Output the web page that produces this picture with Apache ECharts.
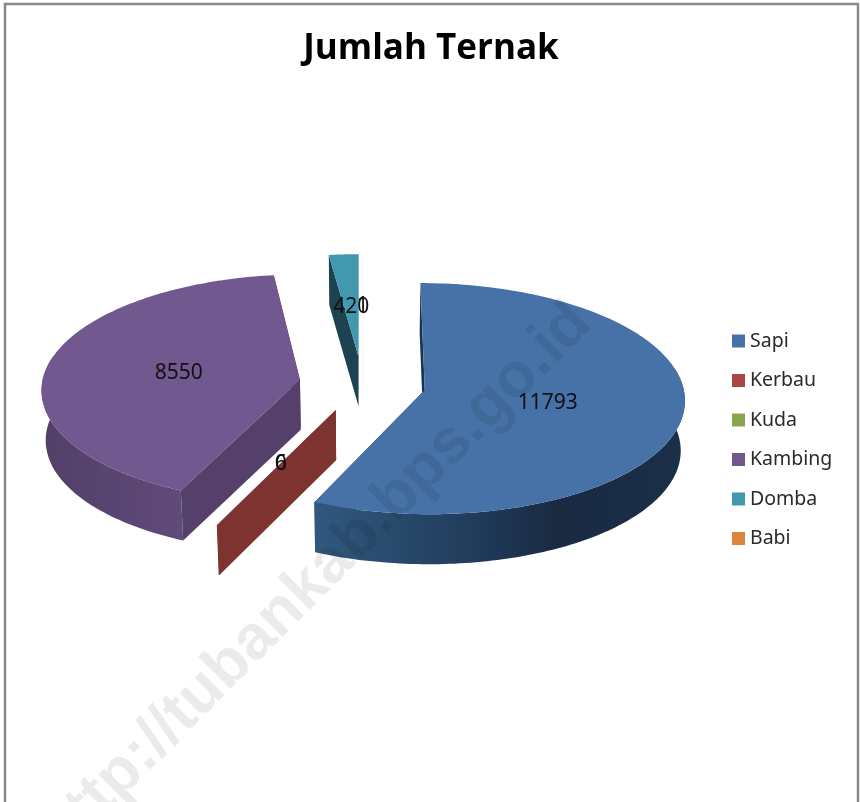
<!DOCTYPE html>
<html><head><meta charset="utf-8">
<style>html,body{margin:0;padding:0;background:#fff}#c{width:860px;height:802px}</style>
<script src="https://cdn.jsdelivr.net/npm/echarts@6/dist/echarts.min.js"></script>
</head><body><div id="c"></div>
<script>
const categories = ['Sapi','Kerbau','Kuda','Kambing','Domba','Babi'];
const values = [11793,6,0,8550,420,1];
const topColors = ['#4672a8','#aa4643','#89a54e','#71588f','#4198af','#db843d'];
const wallColors = ['#1c3350','#7d3330','#5f7a38','#553f6b','#1d4350','#a0602c'];
const rimStops = [
  [[0,'#30597f'],[0.45,'#203a59'],[0.66,'#192a41'],[1,'#1b2f49']],
  [[0,'#7d3330'],[1,'#7d3330']],
  [[0,'#5f7a38'],[1,'#5f7a38']],
  [[0,'#6a5286'],[1,'#523f68']],
  [[0,'#2f7488'],[1,'#1d4350']],
  [[0,'#a0602c'],[1,'#a0602c']]
];
const drawOrder = [3,4,5,1,2,0];
const CX=362.5, CY=384, RX=258, RY=114, PERSP=0.075, EXPLODE=0.246, DEPTH=50, BOTTOM_SCALE=0.987, LABEL_R=0.48;
const total = values.reduce((a,b)=>a+b,0);
const starts = []; values.reduce((s,v,i)=>{starts[i]=s;return s+v;},0);

function proj(px,pz,low){
  const w=1-PERSP*pz;
  let x=CX+px*RX/w, y=CY+pz*RY/w;
  if(low){x=CX+(x-CX)*BOTTOM_SCALE; y+=DEPTH;}
  return [x,y];
}
function renderSlice(i){
  return function(params,api){
    const val=api.value(0);
    const a0=starts[i]/total*2*Math.PI, a1=(starts[i]+val)/total*2*Math.PI, b=(a0+a1)/2;
    const ox=EXPLODE*Math.sin(b), oz=-EXPLODE*Math.cos(b);
    const rim=(a,low)=>proj(ox+Math.sin(a),oz-Math.cos(a),low);
    const apex=low=>proj(ox,oz,low);
    const kids=[];
    const n=Math.max(2,Math.ceil((a1-a0)/0.02));
    const arc=[],arcLow=[];
    for(let k=0;k<=n;k++){const a=a0+(a1-a0)*k/n;arc.push(rim(a,false));arcLow.push(rim(a,true));}
    if(val>0){
      const wall=a=>({type:'polygon',shape:{points:[apex(false),rim(a,false),rim(a,true),apex(true)]},style:{fill:wallColors[i]}});
      kids.push(wall(a1));
      const front=[];
      for(let k=0;k<n;k++){
        const a=a0+(a1-a0)*(k+0.5)/n;
        if(Math.cos(a)<0.03||Math.abs(Math.sin(a))>0.98) front.push(k);
      }
      if(front.length && a1-a0>0.02){
        const xs=arc.map(p=>p[0]);
        const minX=Math.min(...xs),maxX=Math.max(...xs);
        const from=front[0],to=front[front.length-1]+1;
        const pts=arc.slice(from,to+1).concat(arcLow.slice(from,to+1).reverse());
        kids.push({type:'polygon',shape:{points:pts},style:{fill:{type:'linear',x:i===0?minX:maxX,y:0,x2:i===0?maxX:minX,y2:0,global:true,
          colorStops:rimStops[i].map(s=>({offset:s[0],color:s[1]}))}}});
      }
      kids.push(wall(a0));
      kids.push({type:'polygon',shape:{points:[apex(false)].concat(arc)},style:{fill:topColors[i]}});
    }
    const lp=proj(ox+LABEL_R*Math.sin(b),oz-LABEL_R*Math.cos(b),false);
    kids.push({type:'text',z2:10,style:{x:lp[0],y:lp[1]+1,text:String(val),align:'center',verticalAlign:'middle',
      font:'21px "Noto Sans"',fill:'#111'}});
    return {type:'group',children:kids};
  };
}
const chart=echarts.init(document.getElementById('c'),null,{renderer:'canvas'});
chart.setOption({
  animation:false,
  backgroundColor:'#ffffff',
  title:{text:'Jumlah Ternak',left:426,top:27,textAlign:'center',
    textStyle:{fontFamily:'"Open Sans"',fontWeight:'bold',fontSize:35,color:'#000'}},
  legend:{orient:'vertical',left:727,top:326,itemWidth:13,itemHeight:13,itemGap:19.5,icon:'rect',data:categories,selectedMode:false,
    textStyle:{fontFamily:'"Noto Sans"',fontSize:19.5,color:'#2a2a2a'}},
  series:drawOrder.map((i,order)=>({
    type:'custom',name:categories[i],coordinateSystem:'none',z:2+order,
    itemStyle:{color:topColors[i]},
    renderItem:renderSlice(i),
    data:[values[i]]
  })),
  graphic:[
    {type:'rect',silent:true,z:50,shape:{x:5,y:4,width:853,height:820},style:{fill:'none',stroke:'#888888',lineWidth:2.5}},
    {type:'text',silent:true,z:60,x:315.5,y:579.5,rotation:Math.PI/4,
      style:{text:'http://tubankab.bps.go.id',align:'center',verticalAlign:'middle',font:'bold 63px "Liberation Sans"',fill:'rgba(0,0,0,0.08)'}}
  ]
});
</script></body></html>
